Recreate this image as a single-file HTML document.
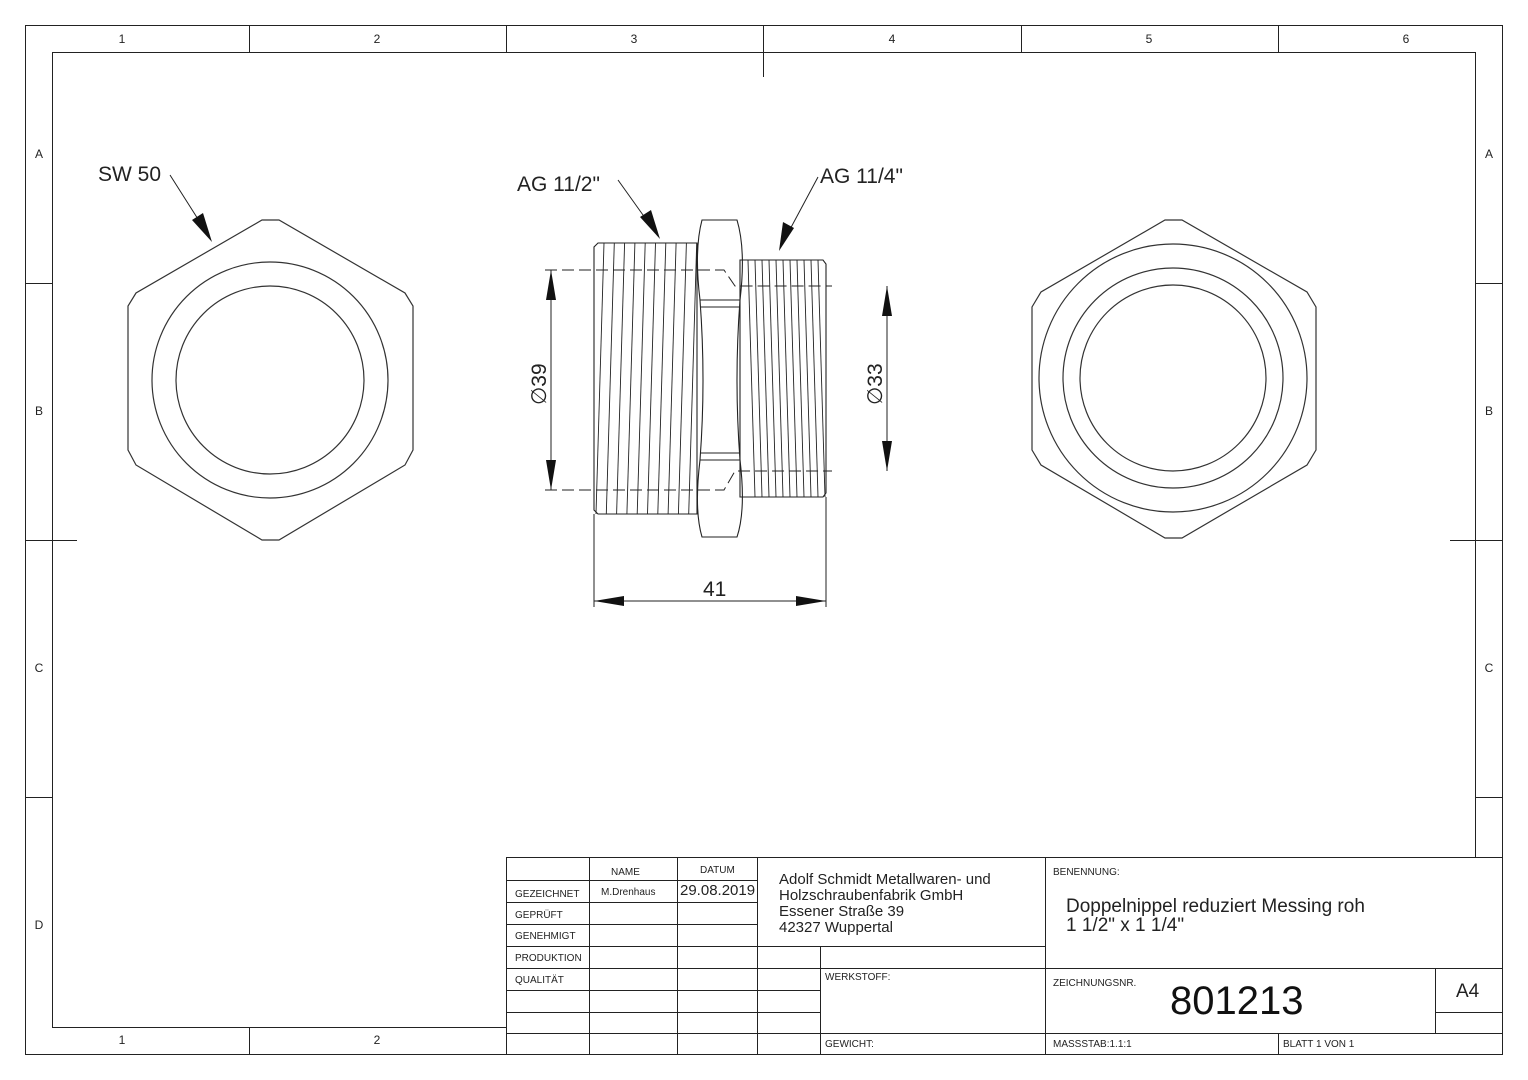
<!DOCTYPE html>
<html><head><meta charset="utf-8"><style>
html,body{margin:0;padding:0;background:#fff;}
svg{display:block;font-family:"Liberation Sans",sans-serif;}
</style></head><body>
<svg id="s" width="1528" height="1080" viewBox="0 0 1528 1080" xmlns="http://www.w3.org/2000/svg">
<g fill="none" stroke="#222" stroke-width="1">
<rect x="25.5" y="25.5" width="1477" height="1029"/>
<rect x="52.5" y="52.5" width="1423" height="975"/>
<path d="M249.5 25V52M506.5 25V52M763.5 25V77M1021.5 25V52M1278.5 25V52M249.5 1027V1054M506.5 1027V1054"/>
<path d="M25 283.5H52M25 540.5H77M25 797.5H52M1475 283.5H1502M1450 540.5H1502M1475 797.5H1502"/>
</g>
<g font-size="12" fill="#222" text-anchor="middle">
<text x="122" y="43">1</text><text x="377" y="43">2</text><text x="634" y="43">3</text><text x="892" y="43">4</text><text x="1149" y="43">5</text><text x="1406" y="43">6</text>
<text x="122" y="1044">1</text><text x="377" y="1044">2</text>
<text x="39" y="158">A</text><text x="39" y="415">B</text><text x="39" y="672">C</text><text x="39" y="929">D</text>
<text x="1489" y="158">A</text><text x="1489" y="415">B</text><text x="1489" y="672">C</text>
</g>
<g fill="none" stroke="#333" stroke-width="1.2">
<polygon points="262,220 279,220 405,293 413,306 413,450 405,465 279,540 262,540 136,465 128,450 128,306 136,293"/>
<circle cx="270" cy="380" r="118"/><circle cx="270" cy="380" r="94"/>
<polygon points="1165,220 1182,220 1307,292 1316,307 1316,450 1307,465 1182,538 1165,538 1041,465 1032,450 1032,307 1041,292"/>
<circle cx="1173" cy="378" r="134"/><circle cx="1173" cy="378" r="110"/><circle cx="1173" cy="378" r="93"/>
</g>
<g fill="none" stroke="#222" stroke-width="1.1">
<path d="M598 243H697V514H598L594 510V247Z"/>
<path d="M740 260H823L826 264V493L823 497H740Z"/>
<path d="M702 220H737Q746 250 740 300Q734 380 740 460Q746 510 737 537H702Q694 510 700 460Q706 380 700 300Q694 250 702 220Z"/>
<path d="M700 300H740M700 307H740M700 453H740M700 460H740"/>
</g>
<g fill="none" stroke="#222" stroke-width="1" stroke-dasharray="12,5">
<path d="M545 270H724L735 286H832"/>
<path d="M545 490H724L735 471H832"/>
</g>
<g fill="none" stroke="#222" stroke-width="1">
<path d="M551 270V490M887 286V471M594 514V607M826 497V607M594 601H826"/>
<path d="M170 175L210 238M618 180L658 236M818 177L780 248"/>
</g>
<g fill="#111">
<polygon points="551,270 546,300 556,300"/><polygon points="551,490 546,460 556,460"/>
<polygon points="887,286 882,316 892,316"/><polygon points="887,471 882,441 892,441"/>
<polygon points="594,601 624,596 624,606"/><polygon points="826,601 796,596 796,606"/>
<polygon points="212,242 192,220 203,213"/><polygon points="660,239 640,217 651,210"/><polygon points="779,251 783,222 794,228"/>
</g>
<g font-size="21" fill="#222">
<text x="98" y="181">SW 50</text>
<text x="517" y="191">AG 11/2"</text>
<text x="820" y="183">AG 11/4"</text>
<text x="703" y="596">41</text>
<text transform="translate(546,405) rotate(-90)">∅39</text>
<text transform="translate(882,405) rotate(-90)">∅33</text>
</g>
<g fill="none" stroke="#222" stroke-width="1">
<rect x="506.5" y="857.5" width="996" height="197" fill="#fff"/>
<path d="M506 880.5H757M506 902.5H757M506 924.5H757M506 946.5H1045M506 968.5H1502M506 990.5H820M506 1012.5H820M506 1033.5H1502"/>
<path d="M589.5 857V1054M677.5 857V1054M757.5 857V1054M820.5 946V1054M1045.5 857V1054M1278.5 1033V1054M1435.5 968V1033M1435.5 1012.5H1502"/>
</g>
<g font-size="10" fill="#222">
<text x="611" y="875">NAME</text><text x="700" y="873">DATUM</text>
<text x="515" y="897">GEZEICHNET</text><text x="601" y="895">M.Drenhaus</text>
<text x="515" y="918">GEPRÜFT</text><text x="515" y="939">GENEHMIGT</text><text x="515" y="961">PRODUKTION</text><text x="515" y="983">QUALITÄT</text>
<text x="825" y="980">WERKSTOFF:</text><text x="825" y="1047">GEWICHT:</text>
<text x="1053" y="875">BENENNUNG:</text><text x="1053" y="986">ZEICHNUNGSNR.</text>
<text x="1053" y="1047">MASSSTAB:1.1:1</text><text x="1283" y="1047">BLATT 1 VON 1</text>
</g>
<g font-size="15" fill="#222">
<text x="680" y="895">29.08.2019</text>
<text x="779" y="884">Adolf Schmidt Metallwaren- und</text>
<text x="779" y="900">Holzschraubenfabrik GmbH</text>
<text x="779" y="916">Essener Straße 39</text>
<text x="779" y="932">42327 Wuppertal</text>
</g>
<g font-size="19" fill="#222">
<text x="1066" y="912">Doppelnippel reduziert Messing roh</text>
<text x="1066" y="931">1 1/2" x 1 1/4"</text>
<text x="1456" y="997">A4</text>
</g>
<text x="1170" y="1014" font-size="40" fill="#111">801213</text>
<g id="th" stroke="#222" stroke-width="0.9"></g>
</svg>
<script>
var g=document.getElementById('th'),s='';
for(var i=0;i<10;i++){var x=604+i*10.3;s+='<line x1="'+x+'" y1="243" x2="'+(x-8)+'" y2="514"/>';}
for(var i=0;i<11;i++){var x=748+i*7;s+='<line x1="'+x+'" y1="260" x2="'+(x+7)+'" y2="497"/>';}
g.innerHTML=s;
</script>
</body></html>
